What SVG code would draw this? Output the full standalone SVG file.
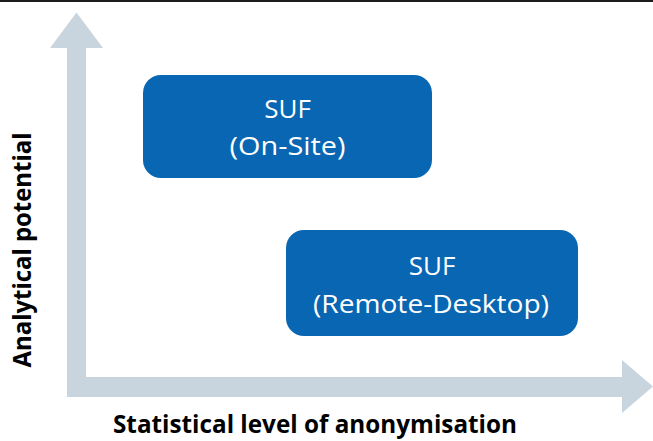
<svg xmlns="http://www.w3.org/2000/svg" width="653" height="441" viewBox="0 0 653 441">
<style>
.axis{fill:#c9d5de}
.box{fill:#0866b2}
.bt{font-family:"Open Sans","Liberation Sans",sans-serif;font-size:26px;fill:#ffffff;text-anchor:middle}
.lab{font-family:"Open Sans","Liberation Sans",sans-serif;font-size:25px;font-weight:bold;fill:#000000;text-anchor:middle}
</style>
<rect x="0" y="0" width="653" height="2" fill="#1c1c1c"/>
<g id="axes">
<path class="axis" d="M76.5,12.5 L103,48 L86,48 L86,377 L622,377 L622,360 L653,386.5 L622,413 L622,397 L67,397 L67,48 L50,48 Z"/>
</g>
<g id="node-onsite">
<rect class="box" x="143" y="75" width="289" height="103" rx="18"/>
<text class="bt" x="287.5" y="118">SUF</text>
<text class="bt" x="287.5" y="155" textLength="116" lengthAdjust="spacingAndGlyphs">(On-Site)</text>
</g>
<g id="node-remote">
<rect class="box" x="286" y="230" width="292" height="106" rx="18"/>
<text class="bt" x="432" y="275">SUF</text>
<text class="bt" x="431" y="313" textLength="236" lengthAdjust="spacingAndGlyphs">(Remote-Desktop)</text>
</g>
<g id="connectors"></g>
<text class="lab" x="315" y="433" textLength="404" lengthAdjust="spacingAndGlyphs">Statistical level of anonymisation</text>
<text class="lab" transform="translate(31,250) rotate(-90)" x="0" y="0" textLength="235" lengthAdjust="spacingAndGlyphs">Analytical potential</text>
</svg>
